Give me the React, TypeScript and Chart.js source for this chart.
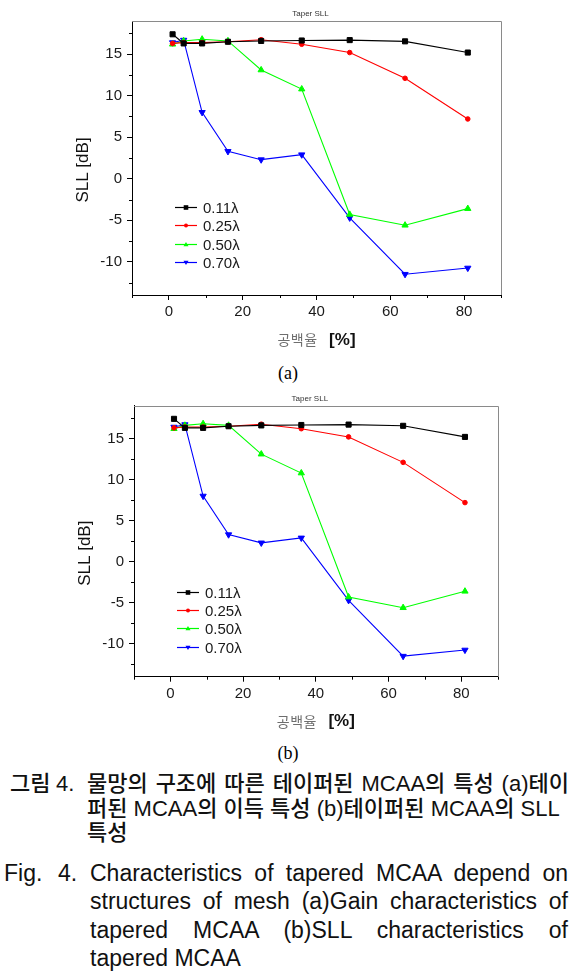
import React, { useEffect, useRef } from 'react';
import { Chart, registerables } from 'chart.js';

Chart.register(...registerables);

// ---------- data ----------
const fillRatio = [1, 4, 9, 16, 25, 36, 49, 64, 81];
const sll011 = [17.4, 16.3, 16.3, 16.5, 16.6, 16.65, 16.7, 16.55, 15.2];
const sll025 = [16.3, 16.4, 16.4, 16.5, 16.75, 16.2, 15.2, 12.1, 7.2];
const sll050 = [16.2, 16.6, 16.8, 16.6, 13.1, 10.8, -4.3, -5.6, -3.6];
const sll070 = [16.4, 16.7, 8.0, 3.3, 2.3, 2.9, -4.7, -11.5, -10.75];

const seriesLabels = ['0.11λ', '0.25λ', '0.50λ', '0.70λ'];
const seriesValues = [sll011, sll025, sll050, sll070];
const seriesColors = ['#000000', '#ff0000', '#00ff00', '#0000ff'];
const seriesMarkers = ['rect', 'circle', 'triangle', 'triangleDown'];

const xTickLabels = [0, 20, 40, 60, 80];
const yTickLabels = [-10, -5, 0, 5, 10, 15];
const chartTitle = 'Taper SLL';
const yTitle = 'SLL [dB]';
const xTitleKo = '공백율';
const xTitleUnit = '[%]';

const captionKo = [
  '물망의 구조에 따른 테이퍼된 MCAA의 특성 (a)테이',
  '퍼된 MCAA의 이득 특성 (b)테이퍼된 MCAA의 SLL',
  '특성',
];
const captionEn = [
  'Characteristics of tapered MCAA depend on',
  'structures of mesh (a)Gain characteristics of',
  'tapered MCAA (b)SLL characteristics of',
  'tapered MCAA',
];

const FONT = '"Liberation Sans", Arial, sans-serif';

function drawMarker(ctx: CanvasRenderingContext2D, kind: string, x: number, y: number, r: number, color: string) {
  ctx.fillStyle = color;
  ctx.beginPath();
  if (kind === 'rect') {
    ctx.rect(x - r, y - r, 2 * r, 2 * r);
  } else if (kind === 'circle') {
    ctx.arc(x, y, r, 0, Math.PI * 2);
  } else if (kind === 'triangle') {
    ctx.moveTo(x, y - r * 1.1);
    ctx.lineTo(x + r * 1.1, y + r * 0.8);
    ctx.lineTo(x - r * 1.1, y + r * 0.8);
    ctx.closePath();
  } else {
    ctx.moveTo(x, y + r * 1.1);
    ctx.lineTo(x + r * 1.1, y - r * 0.8);
    ctx.lineTo(x - r * 1.1, y - r * 0.8);
    ctx.closePath();
  }
  ctx.fill();
}

const overlayPlugin = {
  id: 'overlay',
  afterDraw(chart: any) {
    const { ctx, chartArea: a, scales } = chart;
    const xs = scales.x;
    const ys = scales.y;
    ctx.save();

    // top / right frame
    ctx.strokeStyle = '#8a8a8a';
    ctx.lineWidth = 1;
    ctx.beginPath();
    ctx.moveTo(a.left, Math.round(a.top) + 0.5);
    ctx.lineTo(Math.round(a.right) + 0.5, Math.round(a.top) + 0.5);
    ctx.lineTo(Math.round(a.right) + 0.5, a.bottom);
    ctx.stroke();

    // minor ticks
    ctx.strokeStyle = '#000';
    ctx.beginPath();
    xs.ticks.forEach((t: any) => {
      if (Math.abs(t.value % 20) > 1e-6) {
        const px = Math.round(xs.getPixelForValue(t.value)) + 0.5;
        ctx.moveTo(px, a.bottom);
        ctx.lineTo(px, a.bottom + 3);
      }
    });
    ys.ticks.forEach((t: any) => {
      if (Math.abs(t.value % 5) > 1e-6) {
        const py = Math.round(ys.getPixelForValue(t.value)) + 0.5;
        ctx.moveTo(a.left, py);
        ctx.lineTo(a.left - 3, py);
      }
    });
    ctx.stroke();

    const cx = (a.left + a.right) / 2;
    const cy = (a.top + a.bottom) / 2;

    // title
    ctx.fillStyle = '#333';
    ctx.font = `8px ${FONT}`;
    ctx.textAlign = 'center';
    ctx.textBaseline = 'middle';
    ctx.fillText(chartTitle, cx - 6, a.top - 7);

    // y title
    ctx.save();
    ctx.translate(a.left - 49, cy + 12);
    ctx.rotate(-Math.PI / 2);
    ctx.fillStyle = '#111';
    ctx.font = `17px ${FONT}`;
    ctx.textAlign = 'center';
    ctx.textBaseline = 'middle';
    ctx.fillText(yTitle, 0, 0);
    ctx.restore();

    // x title
    const ty = a.bottom + 45;
    ctx.textBaseline = 'middle';
    ctx.textAlign = 'left';
    const koFont = `14px "Noto Sans CJK KR", sans-serif`;
    ctx.font = koFont;
    const chars = Array.from(xTitleKo);
    const gap = 0.5;
    const koW = chars.reduce((s, c) => s + ctx.measureText(c).width, 0) + gap * (chars.length - 1);
    ctx.font = `bold 17px ${FONT}`;
    const unitW = ctx.measureText(xTitleUnit).width;
    const sep = 12;
    let sx = cx - (koW + sep + unitW) / 2;
    ctx.font = koFont;
    ctx.fillStyle = '#6e6e6e';
    chars.forEach((c) => {
      ctx.fillText(c, sx, ty);
      sx += ctx.measureText(c).width + gap;
    });
    sx += sep - gap;
    ctx.font = `bold 17px ${FONT}`;
    ctx.fillStyle = '#111';
    ctx.fillText(xTitleUnit, sx, ty);

    // legend
    ctx.font = `15px ${FONT}`;
    ctx.textBaseline = 'middle';
    ctx.textAlign = 'left';
    seriesLabels.forEach((lab, i) => {
      const ly = Math.round(a.top + 186 + i * 18.3) + 0.5;
      const lx0 = a.left + 43;
      const lx1 = a.left + 65;
      ctx.strokeStyle = seriesColors[i];
      ctx.lineWidth = 1.2;
      ctx.beginPath();
      ctx.moveTo(lx0, ly);
      ctx.lineTo(lx1, ly);
      ctx.stroke();
      drawMarker(ctx, seriesMarkers[i], (lx0 + lx1) / 2, ly, seriesMarkers[i] === 'circle' ? 2 : 2.3, seriesColors[i]);
      ctx.fillStyle = '#1a1a1a';
      ctx.fillText(lab, a.left + 71, ly + 1);
    });

    ctx.restore();
  },
};

type Geom = { padTop: number; padRight: number; yWidth: number; xHeight: number };

function makeConfig(g: Geom): any {
  const datasets = seriesValues.map((vals, i) => {
    const m = seriesMarkers[i];
    return {
      label: seriesLabels[i],
      data: fillRatio.map((x, j) => ({ x, y: vals[j] })),
      borderColor: seriesColors[i],
      backgroundColor: seriesColors[i],
      borderWidth: 1.1,
      tension: 0,
      pointStyle: m === 'triangleDown' ? 'triangle' : m,
      pointRotation: m === 'triangleDown' ? 180 : 0,
      pointRadius: m === 'rect' ? 3.6 : m === 'circle' ? 2.3 : 3.6,
      pointBorderWidth: 1,
      pointBorderColor: seriesColors[i],
      pointBackgroundColor: seriesColors[i],
    };
  });
  return {
    type: 'line',
    data: { datasets },
    plugins: [overlayPlugin],
    options: {
      animation: false,
      responsive: false,
      devicePixelRatio: 1,
      events: [],
      layout: { padding: { top: g.padTop, right: g.padRight, left: 0, bottom: 0 } },
      plugins: {
        legend: { display: false },
        title: { display: false },
        tooltip: { enabled: false },
      },
      scales: {
        x: {
          type: 'linear',
          min: -10,
          max: 90,
          afterFit: (s: any) => {
            s.height = g.xHeight;
          },
          border: { display: true, color: '#000', width: 1 },
          grid: {
            display: true,
            drawOnChartArea: false,
            drawTicks: true,
            tickLength: 5,
            tickWidth: 1,
            tickColor: (c: any) => (c.tick && xTickLabels.includes(c.tick.value) ? '#000' : 'rgba(0,0,0,0)'),
          },
          ticks: {
            stepSize: 10,
            includeBounds: false,
            autoSkip: false,
            maxRotation: 0,
            padding: 3,
            color: '#1a1a1a',
            font: { family: FONT, size: 15 },
            callback: (v: number) => (xTickLabels.includes(v) ? String(v) : ''),
          },
        },
        y: {
          type: 'linear',
          min: -14,
          max: 19,
          afterFit: (s: any) => {
            s.width = g.yWidth;
          },
          border: { display: true, color: '#000', width: 1 },
          grid: {
            display: true,
            drawOnChartArea: false,
            drawTicks: true,
            tickLength: 5,
            tickWidth: 1,
            tickColor: (c: any) => (c.tick && yTickLabels.includes(c.tick.value) ? '#000' : 'rgba(0,0,0,0)'),
          },
          ticks: {
            stepSize: 2.5,
            includeBounds: false,
            autoSkip: false,
            padding: 5,
            color: '#1a1a1a',
            font: { family: FONT, size: 15 },
            callback: (v: number) => (yTickLabels.includes(v) ? String(v) : ''),
          },
        },
      },
    },
  };
}

function SllChart({ top, height, geom }: { top: number; height: number; geom: Geom }) {
  const ref = useRef<HTMLCanvasElement>(null);
  useEffect(() => {
    const chart = new Chart(ref.current as HTMLCanvasElement, makeConfig(geom));
    return () => chart.destroy();
  }, []);
  return (
    <canvas
      ref={ref}
      width={586}
      height={height}
      style={{ position: 'absolute', left: 0, top, width: 586, height }}
    />
  );
}

const koStyle: React.CSSProperties = {
  position: 'absolute',
  fontFamily: '"Liberation Sans", "Noto Sans CJK KR", sans-serif',
  fontSize: 22,
  fontWeight: 500,
  lineHeight: '25px',
  height: 25,
  color: '#111',
  whiteSpace: 'nowrap',
};
const enStyle: React.CSSProperties = {
  position: 'absolute',
  fontFamily: '"Liberation Sans", Arial, sans-serif',
  fontSize: 23,
  lineHeight: '28px',
  height: 28,
  color: '#111',
  whiteSpace: 'nowrap',
};
const justify: React.CSSProperties = { textAlign: 'justify', textAlignLast: 'justify' as any, whiteSpace: 'normal' };

export default function App() {
  return (
    <div style={{ position: 'absolute', left: 0, top: 0, width: 586, height: 977, background: '#fff', overflow: 'hidden' }}>
      <SllChart top={0} height={355} geom={{ padTop: 21, padRight: 85, yWidth: 132, xHeight: 60 }} />
      <div style={{ position: 'absolute', left: 258, top: 361, width: 60, textAlign: 'center', fontFamily: '"Liberation Serif", serif', fontSize: 18, lineHeight: '24px' }}>(a)</div>
      <SllChart top={385} height={350} geom={{ padTop: 20.7, padRight: 88.3, yWidth: 134, xHeight: 58.3 }} />
      <div style={{ position: 'absolute', left: 258, top: 741, width: 60, textAlign: 'center', fontFamily: '"Liberation Serif", serif', fontSize: 18, lineHeight: '24px' }}>(b)</div>

      {/* Korean caption */}
      <div style={{ ...koStyle, left: 10, top: 770.5 }}>그림</div>
      <div style={{ ...koStyle, left: 56, top: 770.5 }}>4.</div>
      <div style={{ ...koStyle, ...justify, left: 87, top: 770.5, width: 482 }}>{captionKo[0]}</div>
      <div style={{ ...koStyle, left: 87, top: 795.5 }}>{captionKo[1]}</div>
      <div style={{ ...koStyle, left: 87, top: 819.5 }}>{captionKo[2]}</div>

      {/* English caption */}
      <div style={{ ...enStyle, left: 4, top: 859 }}>Fig.</div>
      <div style={{ ...enStyle, left: 58, top: 859 }}>4.</div>
      <div style={{ ...enStyle, ...justify, left: 90, top: 859, width: 478 }}>{captionEn[0]}</div>
      <div style={{ ...enStyle, ...justify, left: 90, top: 887, width: 478 }}>{captionEn[1]}</div>
      <div style={{ ...enStyle, ...justify, left: 90, top: 916, width: 478 }}>{captionEn[2]}</div>
      <div style={{ ...enStyle, left: 90, top: 944 }}>{captionEn[3]}</div>
    </div>
  );
}
